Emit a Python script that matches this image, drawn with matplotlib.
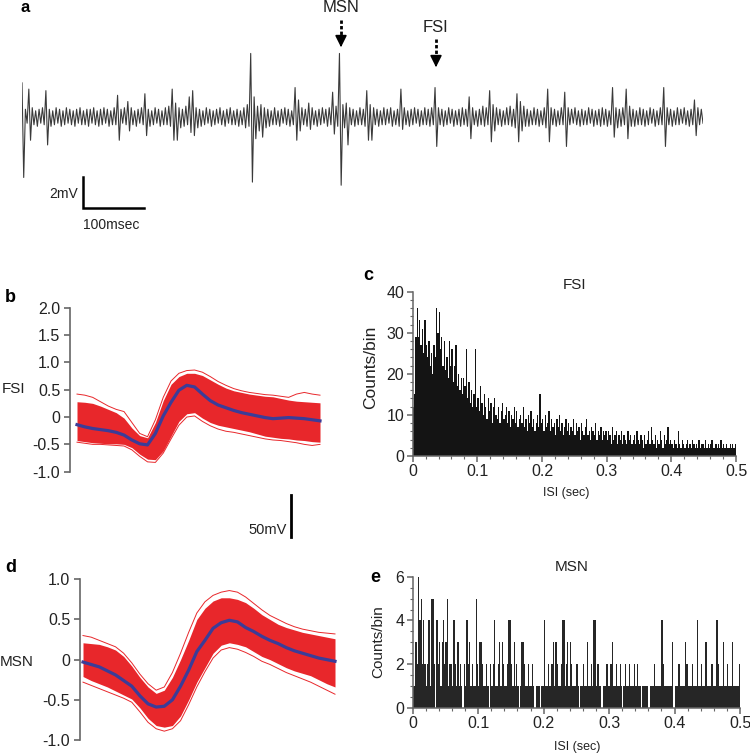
import numpy as np
import matplotlib.pyplot as plt

plt.rcParams['font.family'] = ['Liberation Sans', 'DejaVu Sans']

W, H = 750, 754

# panel a: raw trace, in 0.1 mV, one value per half cycle (~2.8 ms)
trace_raw = [
    22, -39, 5, -4, 18, -15, 6, -5, 4, -6, 5, -4, 6, -5, 17, -18, 5, -6, 4, -5,
    6, -4, 5, -6, 4, -5, 6, -4, 5, -5, 4, -6, 5, -4, 6, -5, 4, -5, 5, -6,
    5, -4, 6, -5, 4, -6, 5, -5, 6, -4, 5, -6, 4, -5, 6, -5, 14, -15, 5, -4,
    6, -5, 10, -9, 6, -5, 4, -6, 5, -4, 6, -5, 15, -12, 5, -6, 4, -5, 6, -4,
    5, -6, 4, -5, 6, -5, 7, -6, 18, -15, 9, -15, 6, -7, 5, -6, 7, -5, 13, -10,
    17, -12, 6, -7, 5, -6, 4, -5, 6, -4, 5, -6, 4, -5, 5, -4, 6, -5, 4, -6,
    5, -4, 6, -5, 4, -5, 5, -6, 4, -5, 6, -7, 8, -6, 41, -42, 13, -14, 7, -9,
    8, -13, 6, -7, 5, -6, 4, -5, 6, -5, 4, -6, 5, -4, 6, -5, 5, -6, 4, -5,
    19, -15, 11, -9, 6, -5, 5, -6, 9, -8, 6, -5, 4, -6, 5, -5, 6, -4, 5, -6,
    6, -5, 16, -11, 7, -6, 41, -44, 8, -7, 9, -18, 6, -5, 5, -6, 4, -5, 6, -5,
    5, -6, 17, -15, 8, -15, 6, -5, 5, -6, 4, -5, 6, -5, 5, -4, 6, -6, 4, -5,
    5, -6, 18, -8, 6, -5, 4, -6, 5, -5, 6, -4, 5, -6, 4, -5, 6, -5, 5, -6,
    6, -5, 19, -19, 6, -5, 5, -6, 4, -5, 6, -4, 5, -6, 4, -5, 5, -6, 6, -5,
    5, -6, 13, -14, 6, -5, 4, -6, 5, -5, 7, -6, 6, -5, 17, -16, 8, -9, 6, -5,
    5, -6, 4, -5, 6, -5, 7, -6, 5, -7, 15, -16, 10, -9, 7, -6, 5, -6, 4, -5,
    6, -5, 5, -6, 4, -5, 6, -7, 18, -16, 6, -5, 5, -6, 4, -5, 6, -5, 16, -19,
    6, -5, 5, -4, 6, -5, 4, -6, 5, -5, 4, -5, 6, -4, 5, -6, 4, -5, 5, -6,
    6, -5, 5, -6, 4, -5, 19, -13, 6, -7, 5, -6, 6, -5, 18, -14, 7, -6, 5, -6,
    4, -5, 6, -5, 5, -6, 4, -5, 6, -4, 5, -6, 4, -5, 6, -5, 19, -19, 6, -5,
    5, -6, 4, -5, 6, -5, 5, -4, 6, -5, 4, -6, 5, -5, 11, -12, 6, -5, 5, -4,
]
trace_dt = 2.797  # ms per sample

# panels b, d: 32-sample waveforms (mean, dense band, outer traces)
fsi_mean = [-0.14, -0.18, -0.21, -0.23, -0.25, -0.28, -0.33, -0.42, -0.49, -0.51, -0.30, 0.02,
            0.27, 0.49, 0.58, 0.55, 0.42, 0.30, 0.22, 0.17, 0.12, 0.08, 0.05, 0.02,
            -0.01, -0.03, -0.02, -0.01, -0.02, -0.03, -0.05, -0.07]
fsi_hi = [0.28, 0.27, 0.25, 0.20, 0.14, 0.08, -0.02, -0.20, -0.34, -0.38, -0.10, 0.30,
          0.60, 0.74, 0.80, 0.80, 0.76, 0.68, 0.60, 0.53, 0.48, 0.45, 0.42, 0.40,
          0.38, 0.37, 0.34, 0.31, 0.29, 0.28, 0.27, 0.26]
fsi_lo = [-0.43, -0.45, -0.47, -0.48, -0.49, -0.49, -0.50, -0.56, -0.68, -0.77, -0.78, -0.62,
          -0.35, -0.08, 0.06, 0.08, -0.02, -0.10, -0.15, -0.18, -0.21, -0.24, -0.27, -0.31,
          -0.35, -0.37, -0.39, -0.40, -0.42, -0.43, -0.45, -0.46]
fsi_out_hi = [0.42, 0.40, 0.36, 0.28, 0.20, 0.14, 0.10, -0.10, -0.30, -0.36, -0.05, 0.36,
              0.66, 0.80, 0.85, 0.86, 0.82, 0.74, 0.65, 0.58, 0.52, 0.48, 0.45, 0.43,
              0.41, 0.40, 0.38, 0.36, 0.42, 0.45, 0.42, 0.40]
fsi_out_lo = [-0.46, -0.48, -0.50, -0.50, -0.51, -0.52, -0.53, -0.60, -0.72, -0.82, -0.83, -0.66,
              -0.40, -0.15, 0.00, 0.02, -0.08, -0.16, -0.22, -0.26, -0.28, -0.31, -0.34, -0.37,
              -0.40, -0.42, -0.43, -0.45, -0.47, -0.50, -0.52, -0.50]

msn_mean = [-0.03, -0.06, -0.09, -0.14, -0.19, -0.26, -0.33, -0.45, -0.55, -0.59, -0.58, -0.50,
            -0.33, -0.13, 0.10, 0.24, 0.39, 0.46, 0.49, 0.47, 0.40, 0.35, 0.29, 0.24,
            0.20, 0.15, 0.11, 0.08, 0.05, 0.02, 0.00, -0.02]
msn_hi = [0.21, 0.20, 0.19, 0.16, 0.12, 0.04, -0.08, -0.22, -0.34, -0.42, -0.38, -0.22,
          0.00, 0.24, 0.50, 0.64, 0.73, 0.77, 0.77, 0.75, 0.71, 0.64, 0.56, 0.50,
          0.44, 0.40, 0.37, 0.34, 0.32, 0.30, 0.28, 0.26]
msn_lo = [-0.21, -0.26, -0.30, -0.34, -0.39, -0.44, -0.49, -0.60, -0.73, -0.82, -0.84, -0.82,
          -0.70, -0.50, -0.28, -0.10, 0.08, 0.18, 0.21, 0.19, 0.16, 0.10, 0.04, 0.00,
          -0.05, -0.10, -0.14, -0.17, -0.20, -0.25, -0.30, -0.34]
msn_out_hi = [0.30, 0.28, 0.24, 0.20, 0.16, 0.08, -0.04, -0.18, -0.30, -0.38, -0.34, -0.16,
              0.08, 0.34, 0.58, 0.72, 0.80, 0.84, 0.86, 0.84, 0.78, 0.70, 0.62, 0.55,
              0.50, 0.45, 0.41, 0.38, 0.36, 0.34, 0.33, 0.32]
msn_out_lo = [-0.28, -0.32, -0.36, -0.40, -0.44, -0.48, -0.53, -0.65, -0.78, -0.86, -0.89, -0.86,
              -0.76, -0.56, -0.34, -0.15, 0.02, 0.12, 0.15, 0.13, 0.09, 0.04, -0.02, -0.06,
              -0.11, -0.16, -0.20, -0.24, -0.28, -0.33, -0.38, -0.43]

# panels c, e: ISI histograms, 2 ms bins from 0 to 0.5 s
fsi_counts = [
    12, 15, 29, 36, 29, 33, 27, 31, 25, 33, 27, 24, 28, 22, 25, 20, 27, 24, 36, 30, 35, 26, 29, 22, 28,
    21, 24, 19, 28, 22, 26, 18, 22, 27, 17, 20, 16, 19, 15, 19, 17, 26, 14, 18, 13, 16, 12, 15, 26, 12,
    14, 11, 17, 13, 10, 15, 12, 9, 14, 11, 13, 8, 12, 14, 10, 9, 12, 8, 11, 13, 9, 10, 12, 8, 11,
    7, 10, 9, 12, 8, 11, 7, 9, 10, 8, 12, 7, 9, 6, 10, 8, 11, 7, 9, 6, 8, 10, 7, 15, 8,
    9, 6, 10, 7, 8, 11, 6, 9, 7, 8, 5, 9, 7, 10, 6, 8, 5, 7, 9, 6, 8, 5, 7, 6, 9,
    5, 8, 6, 7, 4, 8, 6, 5, 7, 9, 5, 6, 4, 7, 6, 5, 8, 4, 6, 5, 7, 4, 6, 5, 6,
    4, 6, 5, 3, 7, 4, 5, 6, 3, 5, 4, 6, 3, 5, 4, 3, 6, 4, 5, 3, 4, 5, 3, 6, 4,
    3, 5, 4, 2, 5, 3, 4, 6, 3, 7, 4, 3, 5, 2, 4, 3, 6, 4, 2, 5, 3, 4, 7, 3, 4,
    3, 2, 4, 3, 2, 6, 3, 2, 4, 3, 2, 3, 4, 2, 3, 2, 4, 3, 2, 3, 2, 4, 2, 3, 3,
    2, 4, 2, 3, 2, 3, 4, 2, 2, 3, 2, 3, 2, 4, 2, 3, 2, 3, 2, 2, 3, 2, 3, 2, 3,
]
msn_counts = [
    1, 1, 3, 2, 6, 4, 5, 2, 4, 2, 1, 2, 4, 1, 5, 5, 2, 0, 4, 2, 3, 1, 3, 4, 2,
    3, 5, 1, 2, 2, 1, 4, 2, 1, 3, 1, 2, 1, 0, 2, 1, 4, 2, 3, 1, 2, 1, 1, 5, 2,
    1, 3, 3, 2, 1, 1, 2, 1, 0, 2, 1, 2, 4, 1, 1, 2, 3, 1, 3, 2, 1, 1, 2, 4, 4,
    2, 1, 3, 1, 2, 1, 0, 1, 3, 3, 2, 1, 1, 2, 1, 1, 2, 1, 0, 1, 1, 1, 0, 1, 1,
    4, 1, 1, 2, 1, 1, 2, 3, 1, 3, 2, 1, 1, 2, 4, 4, 1, 2, 3, 1, 3, 2, 1, 1, 1,
    2, 1, 0, 1, 1, 2, 1, 1, 3, 1, 1, 2, 1, 4, 4, 1, 2, 1, 1, 0, 1, 1, 1, 2, 1,
    1, 2, 3, 1, 1, 2, 1, 1, 2, 1, 0, 1, 2, 1, 1, 2, 1, 1, 1, 2, 1, 2, 1, 1, 0,
    1, 1, 1, 1, 1, 0, 1, 1, 1, 2, 1, 1, 1, 1, 1, 4, 2, 1, 1, 1, 1, 1, 1, 3, 0,
    1, 1, 1, 2, 1, 1, 1, 1, 3, 2, 1, 1, 1, 2, 1, 1, 1, 4, 1, 1, 2, 1, 1, 3, 3,
    1, 1, 1, 2, 1, 1, 1, 4, 2, 1, 1, 1, 3, 1, 1, 2, 1, 1, 1, 3, 1, 1, 1, 1, 2,
]
bin_w = 0.002


def box(l, t, r, b):
    # pixel box (top-left origin) -> figure fraction rect
    return [l / W, 1 - b / H, (r - l) / W, (b - t) / H]


fig = plt.figure(figsize=(W / 100, H / 100), dpi=100)
ov = fig.add_axes([0, 0, 1, 1])
ov.set_xlim(0, W)
ov.set_ylim(H, 0)
ov.axis('off')

red = '#e8272b'
blue = '#3b3c98'
axc = '#666666'
txt = '#222222'

# ---- a: raw trace
px_per_mv = 1 / 0.0645
ax_a = fig.add_axes(box(22, 40, 703, 230))
tr = np.array(trace_raw) / 10.0
t = np.arange(len(tr)) * trace_dt
ax_a.plot(t, tr, color='#3a3a3a', lw=0.8)
ax_a.set_xlim(t[0], t[-1])
ax_a.set_ylim(-(230 - 117) / px_per_mv, (117 - 40) / px_per_mv)
ax_a.axis('off')
bar_top = -(177 - 117) / px_per_mv
ax_a.plot([100, 100, 200], [bar_top, bar_top - 2, bar_top - 2], color='k', lw=1.8,
          solid_joinstyle='miter', clip_on=False)
ov.text(78, 194, '2mV', ha='right', va='center', fontsize=10, color=txt)
ov.text(83, 225, '100msec', ha='left', va='center', fontsize=10, color=txt)

for lab, x, ty, y0, y1 in [('MSN', 341, 8, 20, 50), ('FSI', 436, 27, 39, 70)]:
    ov.text(x, ty, lab, ha='center', va='center', fontsize=12, color=txt)
    ov.plot([x, x], [y0, y1 - 8], color='k', lw=2, linestyle=(0, (1.2, 0.8)))
    ov.annotate('', xy=(x, y1), xytext=(x, y1 - 9),
                arrowprops=dict(arrowstyle='-|>,head_width=0.35,head_length=0.7',
                                color='k', lw=1.2))
ov.text(25, 8, 'a', ha='center', va='center', fontsize=12, fontweight='bold')


# ---- b, d: spike waveforms
def waveform(rect, mean, hi, lo, ohi, olo, ylim, ticks, labels, x0px, x1px, axpx, rpx):
    ax = fig.add_axes(rect)
    s = np.arange(len(mean))
    dx = (x1px - x0px) / (len(mean) - 1)
    ax.plot(s, ohi, color=red, lw=0.7)
    ax.plot(s, olo, color=red, lw=0.7)
    ax.fill_between(s, lo, hi, color=red, lw=0)
    ax.plot(s, mean, color=blue, lw=2.3)
    ax.set_xlim(-(x0px - axpx) / dx, len(mean) - 1 + (rpx - x1px) / dx)
    ax.set_ylim(*ylim)
    for sp in ['top', 'right', 'bottom']:
        ax.spines[sp].set_visible(False)
    ax.spines['left'].set_color(axc)
    ax.spines['left'].set_linewidth(1.2)
    ax.set_xticks([])
    ax.set_yticks(ticks)
    ax.set_yticklabels(labels)
    ax.tick_params(axis='y', colors=axc, labelcolor=txt, labelsize=11.5, length=4, width=1.2, pad=3)
    ax.patch.set_alpha(0)
    return ax


waveform(box(70, 307.7, 322, 471.7), fsi_mean, fsi_hi, fsi_lo, fsi_out_hi, fsi_out_lo,
         (-1, 2), [2, 1.5, 1, 0.5, 0, -0.5, -1], ['2.0', '1.5', '1.0', '0.5', '0', '-0.5', '-1.0'],
         77, 320, 70, 322)
waveform(box(80, 579.3, 337, 740), msn_mean, msn_hi, msn_lo, msn_out_hi, msn_out_lo,
         (-1, 1), [1, 0.5, 0, -0.5, -1], ['1.0', '0.5', '0', '-0.5', '-1.0'],
         83, 335, 80, 337)
ov.text(2, 389, 'FSI', ha='left', va='center', fontsize=11, color=txt)
ov.text(0, 662, 'MSN', ha='left', va='center', fontsize=11, color=txt)
ov.text(5, 297, 'b', ha='left', va='center', fontsize=13, fontweight='bold')
ov.text(5, 568, 'd', ha='left', va='center', fontsize=13, fontweight='bold')
ov.plot([290.7, 290.7], [495, 537], color='k', lw=2)
ov.text(287, 530, '50mV', ha='right', va='center', fontsize=10.5, color=txt)


# ---- c, e: ISI histograms
def isi_hist(rect, counts, ymax, yticks, yminor, face):
    ax = fig.add_axes(rect)
    x = (np.arange(len(counts)) + 0.5) * bin_w
    ax.bar(x, counts, width=bin_w, color=face, linewidth=0)
    ax.set_xlim(0, 0.5)
    ax.set_ylim(0, ymax)
    for sp in ['top', 'right']:
        ax.spines[sp].set_visible(False)
    for sp in ['left', 'bottom']:
        ax.spines[sp].set_color(axc)
        ax.spines[sp].set_linewidth(1.1)
    ax.set_xticks([0, 0.1, 0.2, 0.3, 0.4, 0.5])
    ax.set_xticklabels(['0', '0.1', '0.2', '0.3', '0.4', '0.5'])
    ax.set_xticks(np.arange(0, 0.5001, 0.02), minor=True)
    ax.set_yticks(yticks)
    ax.set_yticks(yminor, minor=True)
    ax.tick_params(which='major', colors=axc, labelcolor=txt, labelsize=11.5, length=4, width=1.1, pad=2)
    ax.tick_params(which='minor', colors=axc, length=2, width=0.8)
    ax.patch.set_alpha(0)
    return ax


isi_hist(box(412.7, 291.7, 736, 456), fsi_counts, 40, [0, 10, 20, 30, 40],
         np.arange(0, 40.1, 2), '#141414')
isi_hist(box(412.7, 576.7, 740, 708), msn_counts, 6, [0, 2, 4, 6],
         np.arange(0, 6.01, 0.5), '#262626')

ov.text(368, 276, 'c', ha='center', va='center', fontsize=13, fontweight='bold')
ov.text(375, 578, 'e', ha='center', va='center', fontsize=13, fontweight='bold')
ov.text(575, 285, 'FSI', ha='center', va='center', fontsize=11, color=txt)
ov.text(572, 567, 'MSN', ha='center', va='center', fontsize=11, color=txt)
ov.text(371, 367, 'Counts/bin', ha='center', va='center', rotation=90, fontsize=12.5, color=txt)
ov.text(378, 642, 'Counts/bin', ha='center', va='center', rotation=90, fontsize=11, color=txt)
ov.text(566, 493, 'ISI (sec)', ha='center', va='center', fontsize=9, color=txt)
ov.text(577, 747, 'ISI (sec)', ha='center', va='center', fontsize=9, color=txt)

fig.savefig('out.png', dpi=100)
